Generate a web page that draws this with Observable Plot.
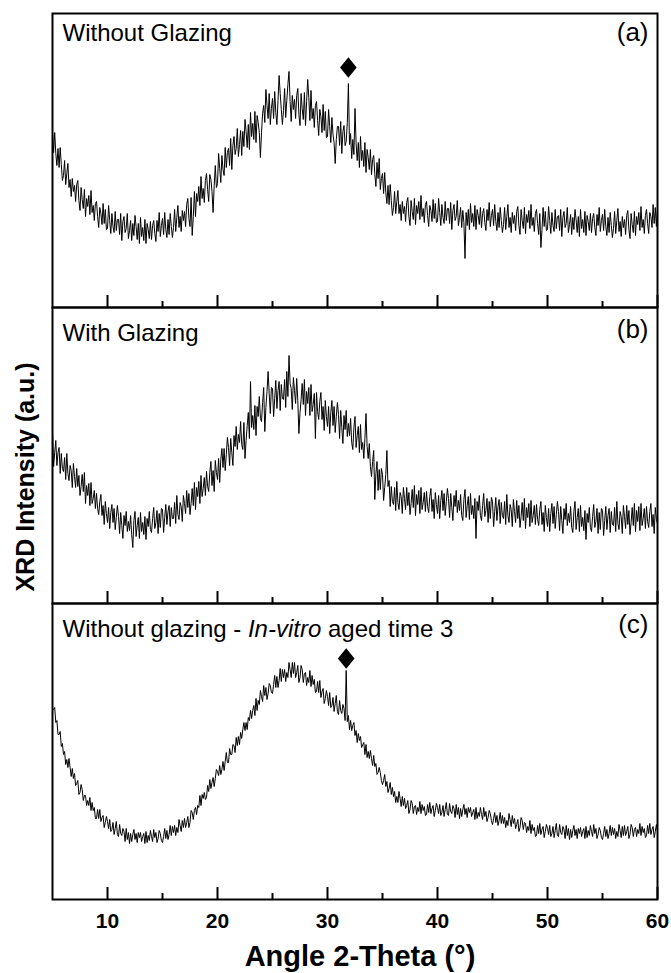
<!DOCTYPE html>
<html>
<head>
<meta charset="utf-8">
<script src="https://cdn.jsdelivr.net/npm/d3@7"></script>
<script src="https://cdn.jsdelivr.net/npm/@observablehq/plot@0.6"></script>
<style>
  html, body { margin: 0; padding: 0; background: #fff; }
  #chart { position: relative; width: 671px; height: 973px; font-family: "Liberation Sans", Arial, sans-serif; color: #000; }
  .panel { position: absolute; left: 0; }
  .panel svg { overflow: visible; display: block; }
  #ylabel { position: absolute; left: 25px; top: 477px; transform: translate(-50%, -50%) rotate(-90deg); white-space: nowrap; font-weight: bold; font-size: 25px; line-height: 25px; }
  #xlabel { position: absolute; left: 360px; top: 942px; transform: translateX(-50%); white-space: nowrap; font-weight: bold; font-size: 29px; line-height: 29px; }
</style>
</head>
<body>
<div id="chart">
  <div id="ylabel">XRD Intensity (a.u.)</div>
  <div id="xlabel">Angle 2-Theta (°)</div>
</div>
<script>
// ---- sampling grid of the scans (2θ, degrees) ----
const X_START = 5;
const X_STEP = 0.1;

// ---- tick values ----
const angleMajor = [10, 20, 30, 40, 50, 60];
const angleMinor = [15, 25, 35, 45, 55];

// ---- panel texts ----
const panelTitles = ["Without Glazing", "With Glazing", "Without glazing - In-vitro aged time 3"];
const panelTags = ["(a)", "(b)", "(c)"];
const italicWord = "In-vitro";

// ---- diamond peak markers (2θ, intensity) per panel ----
const peakAngle = [31.9, null, 31.7];
const peakMarkY = [240, null, 241];

// ---- intensities (a.u.), one value per 0.1° from 5° to 60° ----
const intensityA = [
175,155,175,154,142,159,140,160,143,127,
132,147,123,134,144,120,128,111,129,116,
122,106,123,127,107,97,120,108,99,118,
91,109,101,112,93,117,95,102,87,104,
106,91,80,100,94,83,104,84,98,78,
79,102,87,74,94,81,75,96,77,88,
88,73,94,67,86,91,75,79,94,69,
77,87,67,84,72,92,81,68,84,64,
90,71,80,67,88,64,84,78,69,86,
68,82,87,74,66,87,76,95,71,82,
89,73,95,78,70,88,73,94,81,70,
80,98,76,90,102,80,91,76,97,87,
96,81,103,109,89,81,110,72,91,116,
91,114,106,121,102,131,109,119,105,127,
134,118,106,133,128,116,95,122,142,120,
124,154,139,125,152,138,132,160,140,155,
159,142,169,138,162,171,153,159,179,151,
163,177,152,176,161,188,176,160,183,158,
195,171,184,168,196,165,192,185,175,150,
175,194,202,185,218,202,189,214,183,199,
209,189,216,195,183,207,232,214,198,183,
197,219,190,207,223,236,206,186,212,198,
208,189,212,219,193,182,214,199,188,215,
182,206,228,210,187,217,189,199,180,202,
206,187,172,198,191,175,203,177,196,170,
171,198,181,165,190,173,165,144,168,181,
181,162,186,154,176,182,162,166,185,224,
163,174,149,168,153,199,164,147,165,140,
171,147,157,141,165,135,158,150,138,158,
133,148,152,133,121,145,129,149,118,129,
134,114,135,115,104,122,103,123,107,92,
100,116,94,106,117,94,103,87,106,94,
101,86,105,110,91,82,107,96,88,109,
83,102,94,106,88,112,91,99,85,103,
106,92,81,102,97,86,108,89,104,85,
86,109,95,82,103,90,84,106,87,99,
99,84,105,78,97,103,87,91,107,82,
90,100,80,97,85,49,95,82,98,78,
104,85,94,81,102,78,98,92,83,100,
80,94,99,85,77,98,87,105,81,92,
98,82,103,86,77,95,80,100,87,75,
83,100,78,91,103,80,90,75,95,84,
92,77,96,101,82,73,98,87,79,100,
74,93,85,97,79,103,82,90,76,94,
98,84,73,94,60,78,100,81,96,77,
78,101,87,74,95,82,76,98,79,91,
92,77,98,71,90,96,80,84,100,75,
83,93,73,90,78,98,88,75,91,71,
98,79,88,75,96,72,92,86,77,94,
75,89,94,80,72,93,82,100,76,87,
93,77,98,81,72,90,75,95,82,70,
79,96,74,87,99,76,86,71,91,80,
88,73,92,97,78,69,94,83,75,96,
72,91,83,95,77,101,80,88,74,92,
98,84,74,95,91,80,103,84,100,81,
100
];

const intensityB = [
172,137,151,163,138,151,156,130,150,135,
132,146,124,150,130,123,138,133,116,140,
127,116,135,117,128,108,117,129,112,131,
100,118,108,120,98,121,100,105,113,95,
110,95,89,102,109,88,98,79,102,90,
81,96,75,91,99,81,95,74,86,98,
87,70,91,78,65,88,78,92,72,82,
73,88,69,56,83,92,67,78,86,65,
91,72,81,69,87,64,85,77,92,74,
71,85,96,75,81,93,70,90,76,95,
94,71,86,99,79,92,98,77,96,85,
85,101,80,108,89,84,101,97,82,108,
100,90,113,96,110,89,100,115,98,121,
94,116,107,122,100,128,107,115,126,108,
132,117,112,131,142,118,133,112,143,131,
124,145,121,144,155,136,155,133,149,166,
156,138,165,151,138,168,157,177,154,169,
161,182,159,154,181,145,163,178,191,165,
222,176,188,174,198,168,197,187,207,185,
182,201,216,172,196,212,232,210,190,216,
215,187,205,223,195,213,222,193,219,205,
204,224,196,232,207,248,220,215,194,226,
213,200,225,203,170,191,204,220,199,224,
188,212,200,216,188,219,192,199,210,165,
211,192,184,202,211,184,197,173,203,187,
177,197,170,191,203,178,197,171,187,201,
189,165,193,176,160,188,174,193,167,180,
168,185,161,154,176,187,156,168,177,151,
179,154,161,145,165,190,157,145,160,137,
127,142,153,104,130,142,113,134,114,135,
129,103,116,129,153,117,123,97,117,102,
99,116,93,122,101,94,111,107,90,116,
105,94,116,98,111,89,100,114,96,118,
88,109,99,113,90,116,94,101,111,92,
112,97,91,107,115,92,104,85,111,99,
90,108,85,103,113,93,110,88,102,115,
105,86,110,96,83,108,97,113,91,103,
93,109,88,83,104,114,86,98,107,84,
110,89,98,85,105,65,102,93,108,88,
83,98,110,87,93,105,81,102,85,106,
102,77,92,106,83,97,104,80,101,88,
85,102,79,109,88,81,99,94,77,104,
92,81,103,85,98,76,87,101,83,105,
75,96,86,100,77,103,81,88,98,79,
99,84,78,94,102,79,91,72,98,86,
77,95,72,90,100,80,97,75,89,102,
92,73,97,83,70,95,84,100,78,90,
81,97,76,71,92,102,74,86,95,72,
98,77,86,73,93,64,90,81,96,76,
72,87,99,76,82,95,70,91,74,95,
93,68,83,97,74,88,95,71,92,79,
78,96,72,102,80,74,92,87,70,98,
87,75,98,79,93,69,81,96,78,100,
72,93,82,97,73,100,78,85,95,75,
97,82,76,92,100,77,89,70,96,84,
80
];

const intensityC = [
189,190,192,177,179,165,165,168,153,156,
145,148,135,140,132,141,132,123,131,121,
126,114,116,119,105,107,115,110,99,104,
104,94,99,94,102,89,97,89,92,81,
81,90,81,90,78,82,84,72,77,83,
78,71,80,68,70,77,65,71,78,65,
63,75,66,64,71,68,58,71,60,67,
56,66,58,65,70,60,66,57,67,62,
67,58,63,66,56,68,57,64,59,69,
63,58,70,62,67,57,61,69,66,59,
57,63,71,61,69,60,65,74,64,73,
67,74,64,72,67,80,74,68,79,72,
81,72,77,83,72,77,89,87,80,89,
92,85,94,92,104,94,105,101,107,100,
102,114,108,120,111,117,122,113,121,130,
128,124,134,125,130,138,129,138,147,137,
137,151,145,145,155,154,147,162,154,163,
155,167,161,170,177,169,177,170,182,179,
189,181,189,194,184,201,189,199,195,209,
203,198,214,204,212,200,206,216,214,207,
206,215,224,212,223,212,219,231,218,230,
222,230,218,227,222,237,230,222,237,226,
237,222,227,234,217,222,234,230,217,226,
227,214,222,217,229,213,224,215,220,207,
208,218,207,219,202,208,211,196,201,209,
203,194,207,192,194,202,188,196,204,188,
185,199,189,186,195,191,179,229,178,184,
170,179,169,174,177,164,169,157,166,159,
163,152,155,157,145,155,142,148,141,149,
141,134,144,133,136,125,127,132,127,119,
115,119,125,113,118,107,111,117,105,112,
103,108,97,103,97,108,101,93,103,94,
101,91,94,99,86,90,99,96,86,93,
94,85,92,88,98,86,95,89,93,84,
85,95,87,97,86,91,94,83,89,96,
92,86,95,84,87,94,83,90,97,85,
84,96,88,86,94,91,82,95,85,92,
81,91,83,90,95,85,91,82,92,87,
92,83,87,90,80,92,81,87,83,92,
85,80,92,83,88,78,82,89,86,79,
75,81,87,77,84,74,79,87,76,84,
76,82,72,79,74,86,80,73,84,76,
81,71,75,80,68,72,82,79,70,77,
76,67,73,69,79,66,75,69,72,63,
64,74,66,76,65,70,73,62,68,75,
71,65,74,63,66,73,62,69,76,64,
63,75,67,65,73,70,61,74,64,71,
60,70,62,69,74,64,70,61,71,66,
72,63,68,71,61,73,62,69,64,74,
68,63,75,66,71,61,65,72,69,62,
60,66,73,63,70,61,66,74,64,72,
65,71,61,68,63,75,69,62,73,64,
74,64,68,73,61,65,75,72,63,70,
72,63,70,66,76,64,73,67,71,62,
64,74,66,76,65,70,73,62,68,75,
68
];

// ---- layout (pixels) ----
const layout = [
  { top: 0,   marginTop: 13, inner: 294, marginBottom: 0,  titleDy: 10, tagDy: 9 },
  { top: 307, marginTop: 0,  inner: 296, marginBottom: 0,  titleDy: 16, tagDy: 12 },
  { top: 603, marginTop: 0,  inner: 296, marginBottom: 74, titleDy: 16, tagDy: 11 }
];

const tallDiamond = {
  draw(context, size) {
    const h = Math.sqrt(size) * 0.83;
    const w = h * 0.81;
    context.moveTo(0, -h);
    context.lineTo(w, 0);
    context.lineTo(0, h);
    context.lineTo(-w, 0);
    context.closePath();
  }
};

const series = [intensityA, intensityB, intensityC];
const chart = document.getElementById("chart");

series.forEach((values, i) => {
  const L = layout[i];
  const data = values.map((v, k) => ({ angle: Math.round((X_START + k * X_STEP) * 10) / 10, intensity: v }));
  const marks = [
    Plot.line(data, { x: "angle", y: "intensity", stroke: "#000", strokeWidth: 1 }),
    Plot.frame({ stroke: "#000", strokeWidth: 2 }),
    Plot.axisX(angleMajor, { anchor: "bottom", tickSize: -12, strokeWidth: 2, fill: "none", label: null }),
    Plot.axisX(angleMinor, { anchor: "bottom", tickSize: -6, strokeWidth: 2, fill: "none", label: null }),
    Plot.text([panelTitles[i]], { text: d => d, frameAnchor: "top-left", dx: 10, dy: L.titleDy, fontSize: 24, textAnchor: "start", lineAnchor: "top", fill: "#000" }),
    Plot.text([panelTags[i]], { text: d => d, frameAnchor: "top-right", dx: -9, dy: L.tagDy, fontSize: 26, textAnchor: "end", lineAnchor: "top", fill: "#000" })
  ];
  if (peakAngle[i] != null) {
    marks.push(Plot.dot([{ angle: peakAngle[i], intensity: peakMarkY[i] }], { x: "angle", y: "intensity", symbol: tallDiamond, r: 7, fill: "#000", stroke: null }));
  }
  if (i === 2) {
    marks.push(Plot.axisX(angleMajor, { anchor: "bottom", tickSize: 0, tickPadding: 14, fontSize: 21, fontWeight: "bold", fill: "#000", label: null }));
  }
  const svg = Plot.plot({
    width: 671,
    height: L.marginTop + L.inner + L.marginBottom,
    marginLeft: 52,
    marginRight: 14,
    marginTop: L.marginTop,
    marginBottom: L.marginBottom,
    x: { domain: [5, 60] },
    y: { domain: [0, L.inner], axis: null },
    style: { fontFamily: "'Liberation Sans', Arial, sans-serif", overflow: "visible", background: "transparent", color: "#000" },
    marks
  });
  // italic word inside the panel (c) title
  d3.select(svg).selectAll("text").each(function () {
    const t = this.textContent;
    if (t.includes(italicWord)) {
      const parts = t.split(italicWord);
      const sel = d3.select(this);
      sel.text(null);
      sel.append("tspan").text(parts[0]);
      sel.append("tspan").attr("font-style", "italic").text(italicWord);
      sel.append("tspan").text(parts[1]);
    }
  });
  const div = document.createElement("div");
  div.className = "panel";
  div.style.top = L.top + "px";
  div.appendChild(svg);
  chart.appendChild(div);
});
</script>
</body>
</html>
